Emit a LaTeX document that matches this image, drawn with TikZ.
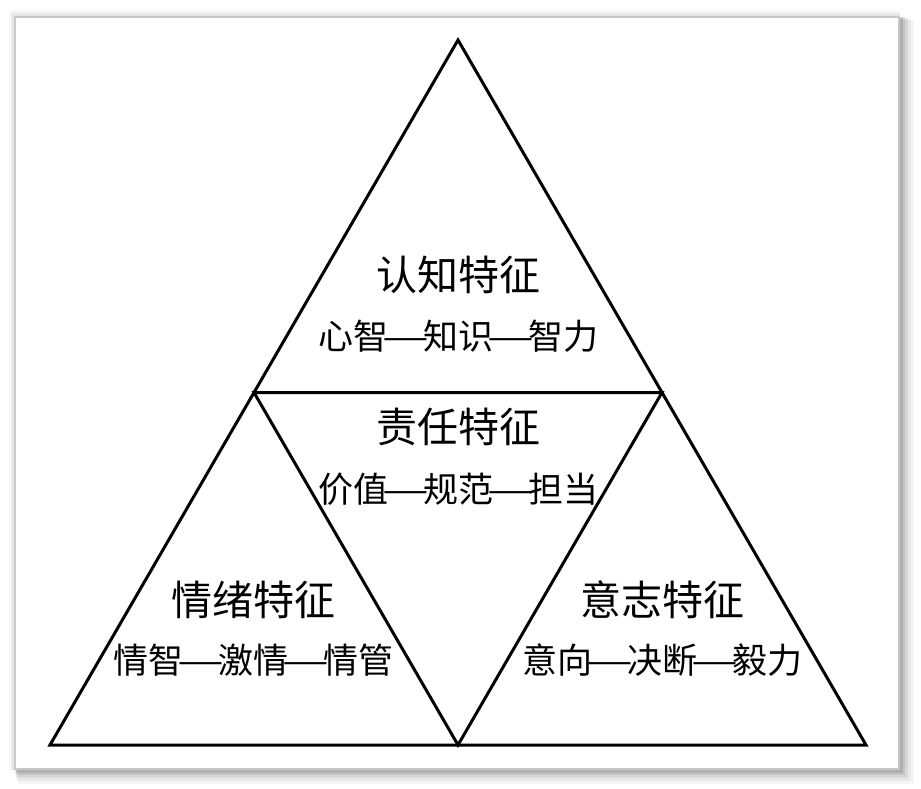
\documentclass[tikz,border=0pt]{standalone}
\usepackage{fontspec}
\newfontfamily\cjk{Noto Sans CJK SC}
\newcommand{\dsh}{\makebox[1em][c]{\scalebox{1.5}[1]{—}}}
\begin{document}
\begin{tikzpicture}[x=1pt,y=-1pt,
  tri/.style={draw=black,line width=3pt,line join=miter},
  title/.style={font=\cjk\fontsize{41}{43}\selectfont,inner sep=0pt},
  sub/.style={font=\cjk\fontsize{35}{37}\selectfont,inner sep=0pt}]
\useasboundingbox (0,0) rectangle (921,789);
\fill[white] (0,0) rectangle (921,789);
% soft shadow
\foreach \d/\o in {14/0.04,11/0.05,8/0.07,5/0.09,3/0.1}{
  \fill[black,opacity=\o] (14+\d*0.3,16+\d*0.3) rectangle (900+\d,770+\d);
}
\foreach \d/\o in {10/0.03,7/0.03,4/0.04}{
  \fill[black,opacity=\o] (14-\d*0.5,16-\d*0.5) rectangle (900,770);
}
\fill[white,draw={rgb,255:red,200;green,200;blue,200},line width=2pt] (15,17) rectangle (899,769);
% triangle
\coordinate (A) at (458,40);
\coordinate (B) at (50,745);
\coordinate (C) at (866,745);
\coordinate (L) at (254,392.5);
\coordinate (R) at (662,392.5);
\coordinate (M) at (458,745);
\draw[tri] (A) -- (B) -- (C) -- cycle;
\draw[tri] (L) -- (R) -- (M) -- cycle;
% labels
\node[title] (t1) at (458,275) {认知特征};
\node[sub] (s1) at (458,336) {心智\dsh 知识\dsh 智力};
\node[title] (t2) at (458,427) {责任特征};
\node[sub] (s2) at (458,489) {价值\dsh 规范\dsh 担当};
\node[title] (t3) at (253,600) {情绪特征};
\node[sub] (s3) at (253,660) {情智\dsh 激情\dsh 情管};
\node[title] (t4) at (662,600) {意志特征};
\node[sub] (s4) at (662,660) {意向\dsh 决断\dsh 毅力};
\end{tikzpicture}
\end{document}
